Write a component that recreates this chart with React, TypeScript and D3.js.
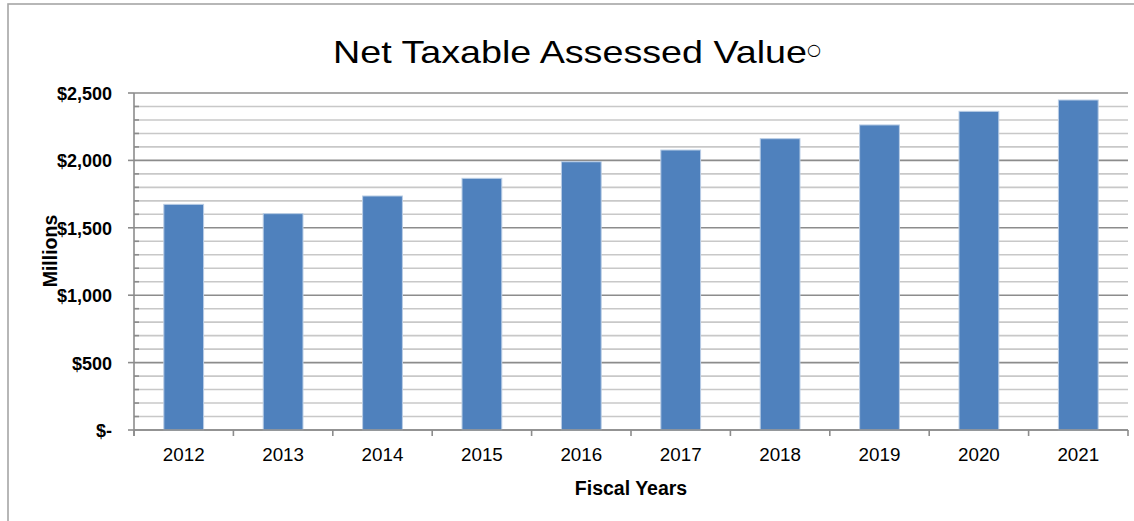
import React from "react";
import * as d3 from "d3";

const years = ["2012", "2013", "2014", "2015", "2016", "2017", "2018", "2019", "2020", "2021"];
const values = [1674, 1605, 1736, 1867, 1990, 2077, 2161, 2263, 2364, 2448];
const yTickValues = [0, 500, 1000, 1500, 2000, 2500];
const yTickLabels = ["$-", "$500", "$1,000", "$1,500", "$2,000", "$2,500"];
const titleText = "Net Taxable Assessed Value";
const xAxisTitle = "Fiscal Years";
const yAxisTitle = "Millions";

const W = 1134;
const H = 521;
const left = 134;
const right = 1128;
const top = 93;
const bottom = 430;

export default function App() {
  const x = d3.scaleBand<string>().domain(years).range([left, right]).paddingInner(0.6).paddingOuter(0.3);
  const y = d3.scaleLinear().domain([0, 2500]).range([bottom, top]);
  const minor = d3.range(0, 2501, 100);
  const boundaries = d3.range(0, years.length + 1).map((i) => left + i * ((right - left) / years.length));
  const font = "'Liberation Sans', Arial, sans-serif";

  return (
    <svg
      width={W}
      height={H}
      style={{ position: "absolute", left: 0, top: 0, background: "#fff" }}
      fontFamily={font}
    >
      <rect x={0} y={0} width={W} height={H} fill="#fff" />
      <rect x={8} y={4} width={W + 20} height={H + 20} fill="none" stroke="#a6a6a6" strokeWidth={1.6} />

      <text
        x={333}
        y={63}
        fontSize={31.5}
        textLength={474}
        lengthAdjust="spacingAndGlyphs"
        fill="#000"
      >
        {titleText}
      </text>
      <text x={807} y={55} fontSize={16} fontFamily="'DejaVu Sans', sans-serif" fill="#000">
        ○
      </text>

      {/* grid lines */}
      {minor.map((v) => (
        <line
          key={"g" + v}
          x1={left}
          x2={right}
          y1={y(v)}
          y2={y(v)}
          stroke={v % 500 === 0 ? "#8c8c8c" : "#c8c8c8"}
          strokeWidth={1.6}
        />
      ))}
      {/* ticks on y axis */}
      {minor.map((v) =>
        v % 500 === 0 ? (
          <line key={"mt" + v} x1={left - 6} x2={left} y1={y(v)} y2={y(v)} stroke="#8c8c8c" strokeWidth={1.6} />
        ) : (
          <line key={"mt" + v} x1={left} x2={left + 5} y1={y(v)} y2={y(v)} stroke="#8c8c8c" strokeWidth={1.6} />
        )
      )}

      {/* bars */}
      {years.map((yr, i) => (
        <rect
          key={yr}
          x={x(yr)}
          y={y(values[i])}
          width={x.bandwidth()}
          height={y(0) - y(values[i])}
          fill="#4f81bd"
          stroke="#b9cde5"
          strokeWidth={1}
        />
      ))}

      {/* axes */}
      <line x1={left} x2={left} y1={top} y2={bottom + 6} stroke="#8c8c8c" strokeWidth={1.6} />
      <line x1={left} x2={right} y1={bottom} y2={bottom} stroke="#8c8c8c" strokeWidth={1.6} />
      {boundaries.map((bx, i) => (
        <line key={"xt" + i} x1={bx} x2={bx} y1={bottom} y2={bottom + 6} stroke="#8c8c8c" strokeWidth={1.6} />
      ))}

      {/* y tick labels */}
      {yTickValues.map((v, i) => (
        <text
          key={"yl" + v}
          x={112}
          y={y(v) + 7}
          textAnchor="end"
          fontSize={18}
          fontWeight="bold"
          fill="#000"
        >
          {yTickLabels[i]}
        </text>
      ))}

      {/* x tick labels */}
      {years.map((yr) => (
        <text
          key={"xl" + yr}
          x={(x(yr) as number) + x.bandwidth() / 2}
          y={461}
          textAnchor="middle"
          fontSize={18.8}
          fill="#000"
        >
          {yr}
        </text>
      ))}

      <text x={(left + right) / 2} y={495} textAnchor="middle" fontSize={19.5} fontWeight="bold" fill="#000">
        {xAxisTitle}
      </text>
      <text
        transform={`translate(57, 251) rotate(-90)`}
        textAnchor="middle"
        fontSize={19.5}
        fontWeight="bold"
        fill="#000"
      >
        {yAxisTitle}
      </text>
    </svg>
  );
}
